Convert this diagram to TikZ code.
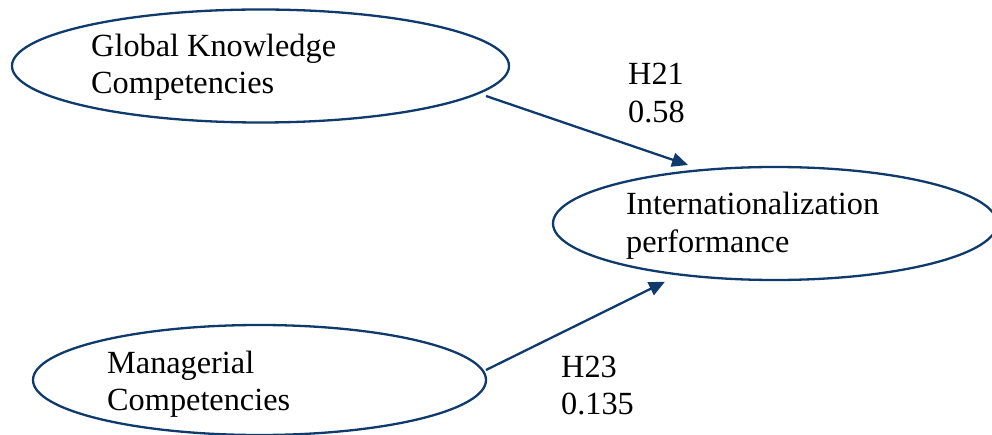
\documentclass[tikz,border=0pt]{standalone}
\usepackage{fontspec}
\setmainfont{Liberation Serif}
\usetikzlibrary{shapes.geometric,arrows.meta,calc}
\definecolor{navy}{RGB}{15,58,108}
\begin{document}
\begin{tikzpicture}[x=1pt,y=-1pt,
  construct/.style={draw=navy,line width=2.3pt,ellipse,inner sep=0pt},
  txt/.style={anchor=base west,inner sep=0pt,font=\fontsize{32.3}{37.3}\selectfont},
  hyp/.style={draw=navy,line width=2.3pt,-{Triangle[length=16pt,width=14pt]}}]
\useasboundingbox (0,0) rectangle (992,435);
% latent constructs
\node[construct,minimum width=497pt,minimum height=113pt] (gkc) at (260.5,66) {};
\node[construct,minimum width=444pt,minimum height=113pt] (perf) at (775,223.5) {};
\node[construct,minimum width=453pt,minimum height=110pt] (mc) at (259.5,380) {};
% construct names
\node[txt] (gkct) at (91,56.7) {\begin{tabular}[t]{@{}l@{}}Global Knowledge\\Competencies\end{tabular}};
\node[txt] (perft) at (626,215) {\begin{tabular}[t]{@{}l@{}}Internationalization\\performance\end{tabular}};
\node[txt] (mct) at (107,373.3) {\begin{tabular}[t]{@{}l@{}}Managerial\\Competencies\end{tabular}};
% hypothesised paths
\draw[hyp] ($(gkc.center)+(225.5,30)$) -- ($(perf.center)+(-87,-58.5)$);
\draw[hyp] ($(mc.center)+(226.5,-10)$) -- ($(perf.center)+(-110,58.2)$);
% path coefficients
\node[txt] (h21) at (628,85) {\begin{tabular}[t]{@{}l@{}}H21\\0.58\end{tabular}};
\node[txt] (h23) at (561,377) {\begin{tabular}[t]{@{}l@{}}H23\\0.135\end{tabular}};
\end{tikzpicture}
\end{document}
